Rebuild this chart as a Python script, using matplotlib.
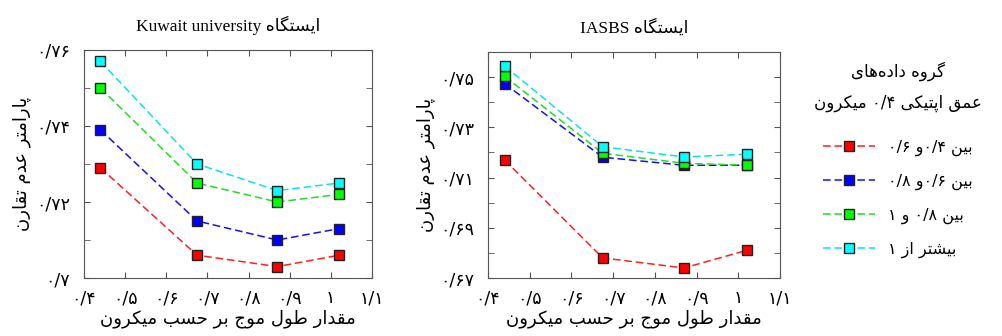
import numpy as np
import matplotlib
matplotlib.use("Agg")
import matplotlib.pyplot as plt
from matplotlib.ticker import MultipleLocator, FixedLocator, FuncFormatter

# ── data ─────────────────────────────────────────────────────────────────────
wavelength = [0.44, 0.675, 0.87, 1.02]

kuwait_red   = [0.729, 0.706, 0.703, 0.706]
kuwait_blue  = [0.739, 0.715, 0.710, 0.713]
kuwait_green = [0.750, 0.725, 0.720, 0.722]
kuwait_cyan  = [0.757, 0.730, 0.723, 0.725]

iasbs_red   = [0.717, 0.678, 0.674, 0.681]
iasbs_blue  = [0.7474, 0.7181, 0.7149, 0.7149]
iasbs_green = [0.7503, 0.7197, 0.7157, 0.7149]
iasbs_cyan  = [0.7544, 0.7223, 0.7182, 0.7193]

group_labels = ["بین ۰/۴و ۰/۶", "بین ۰/۶و ۰/۸", "بین ۰/۸ و ۱", "بیشتر از ۱"]
group_colors = ["#ff2020", "#1010ff", "#20e020", "#00e8f0"]
marker_faces = ["#ff0000", "#0000ff", "#00ff00", "#00ffff"]

# ── minimal persian shaping (matplotlib has no bidi/shaping) ────────────────
FORMS = {  # isolated, final, initial, medial
    "ا": (0xFE8D, 0xFE8E), "د": (0xFEA9, 0xFEAA), "ر": (0xFEAD, 0xFEAE),
    "ز": (0xFEAF, 0xFEB0), "و": (0xFEED, 0xFEEE),
    "ب": (0xFE8F, 0xFE90, 0xFE91, 0xFE92), "پ": (0xFB56, 0xFB57, 0xFB58, 0xFB59),
    "ت": (0xFE95, 0xFE96, 0xFE97, 0xFE98), "ج": (0xFE9D, 0xFE9E, 0xFE9F, 0xFEA0),
    "ح": (0xFEA1, 0xFEA2, 0xFEA3, 0xFEA4), "س": (0xFEB1, 0xFEB2, 0xFEB3, 0xFEB4),
    "ش": (0xFEB5, 0xFEB6, 0xFEB7, 0xFEB8), "ط": (0xFEC1, 0xFEC2, 0xFEC3, 0xFEC4),
    "ع": (0xFEC9, 0xFECA, 0xFECB, 0xFECC), "ق": (0xFED5, 0xFED6, 0xFED7, 0xFED8),
    "ک": (0xFB8E, 0xFB8F, 0xFB90, 0xFB91), "گ": (0xFB92, 0xFB93, 0xFB94, 0xFB95),
    "ل": (0xFEDD, 0xFEDE, 0xFEDF, 0xFEE0), "م": (0xFEE1, 0xFEE2, 0xFEE3, 0xFEE4),
    "ن": (0xFEE5, 0xFEE6, 0xFEE7, 0xFEE8), "ه": (0xFEE9, 0xFEEA, 0xFEEB, 0xFEEC),
    "ی": (0xFBFC, 0xFBFD, 0xFBFE, 0xFBFF),
}
LTR = set("۰۱۲۳۴۵۶۷۸۹/0123456789")


def fa(text):
    chars = list(text)
    out = []
    for i, ch in enumerate(chars):
        f = FORMS.get(ch)
        if f is None:
            if ch != "\u200c":
                out.append(ch)
            continue
        prev = chars[i - 1] if i > 0 else ""
        nxt = chars[i + 1] if i + 1 < len(chars) else ""
        join_prev = prev in FORMS and len(FORMS[prev]) == 4
        join_next = len(f) == 4 and nxt in FORMS
        if join_prev and join_next:
            code = f[3]
        elif join_next:
            code = f[2]
        elif join_prev:
            code = f[1]
        else:
            code = f[0]
        out.append(chr(code))
    vis = "".join(reversed(out))
    # put number runs back in left-to-right order
    res, run = "", ""
    for ch in vis:
        if ch in LTR:
            run += ch
        else:
            res += run[::-1] + ch
            run = ""
    return res + run[::-1]


PDIG = "۰۱۲۳۴۵۶۷۸۹"


def pnum(v, pos=None):
    s = f"{v:.2f}".rstrip("0").rstrip(".")
    s = s.replace(".", "/")
    return "".join(PDIG[int(c)] if c.isdigit() else c for c in s)


plt.rcParams["font.family"] = ["DejaVu Sans"]

fig = plt.figure(figsize=(10.03, 3.36), dpi=100)
ax1 = fig.add_axes([0.0837, 0.1726, 0.2871, 0.6786])
ax2 = fig.add_axes([0.4865, 0.1726, 0.2911, 0.6726])

panels = [
    (ax1, [kuwait_red, kuwait_blue, kuwait_green, kuwait_cyan], (0.70, 0.76),
     [0.70, 0.72, 0.74, 0.76], "Kuwait university"),
    (ax2, [iasbs_red, iasbs_blue, iasbs_green, iasbs_cyan], (0.67, 0.76),
     [0.67, 0.69, 0.71, 0.73, 0.75], "IASBS"),
]

handles = []
for ax, series, ylim, ylab, station in panels:
    for vals, lc, mf in zip(series, group_colors, marker_faces):
        ln, = ax.plot(wavelength, vals, ls=(0, (5, 2.5)), lw=1.1, color=lc,
                      marker="s", ms=6.5, mfc=mf, mec="#222222", mew=1.0)
        if ax is ax1:
            handles.append(ln)
    ax.set_xlim(0.4, 1.1)
    ax.set_ylim(*ylim)
    ax.xaxis.set_major_locator(MultipleLocator(0.1))
    ax.xaxis.set_major_formatter(FuncFormatter(pnum))
    ax.yaxis.set_major_locator(FixedLocator(ylab))
    ax.yaxis.set_major_formatter(FuncFormatter(pnum))
    ax.yaxis.set_minor_locator(MultipleLocator(0.01))
    ax.tick_params(which="both", direction="in", top=True, right=True,
                   color="#555555", labelsize=12.5)
    ax.tick_params(axis="x", pad=8)
    ax.tick_params(axis="y", pad=10)
    ax.tick_params(which="major", length=4)
    ax.tick_params(which="minor", length=4)
    for sp in ax.spines.values():
        sp.set_color("#555555")
        sp.set_linewidth(0.8)
    ax.set_xlabel(fa("مقدار طول موج بر حسب میکرون"), fontsize=13, labelpad=2)
    ax.set_ylabel(fa("پارامتر عدم تقارن"), fontsize=13, labelpad=4)
    ax.set_title(station + " " + fa("ایستگاه"), fontsize=12.5, pad=14,
                 family=["Liberation Serif", "DejaVu Sans"])

leg = fig.legend(handles, [fa(t) for t in group_labels],
                 loc="upper left", bbox_to_anchor=(0.797, 0.86),
                 frameon=False, fontsize=11.5, handlelength=3.3,
                 labelspacing=1.1, handletextpad=0.8,
                 title=fa("گروه داده‌های") + "\n" + fa("عمق اپتیکی ۰/۴ میکرون"),
                 title_fontsize=12)
leg.get_title().set_multialignment("center")
leg.get_title().set_linespacing(1.9)
leg._legend_box.sep = 20

fig.savefig("out.png", dpi=100)
